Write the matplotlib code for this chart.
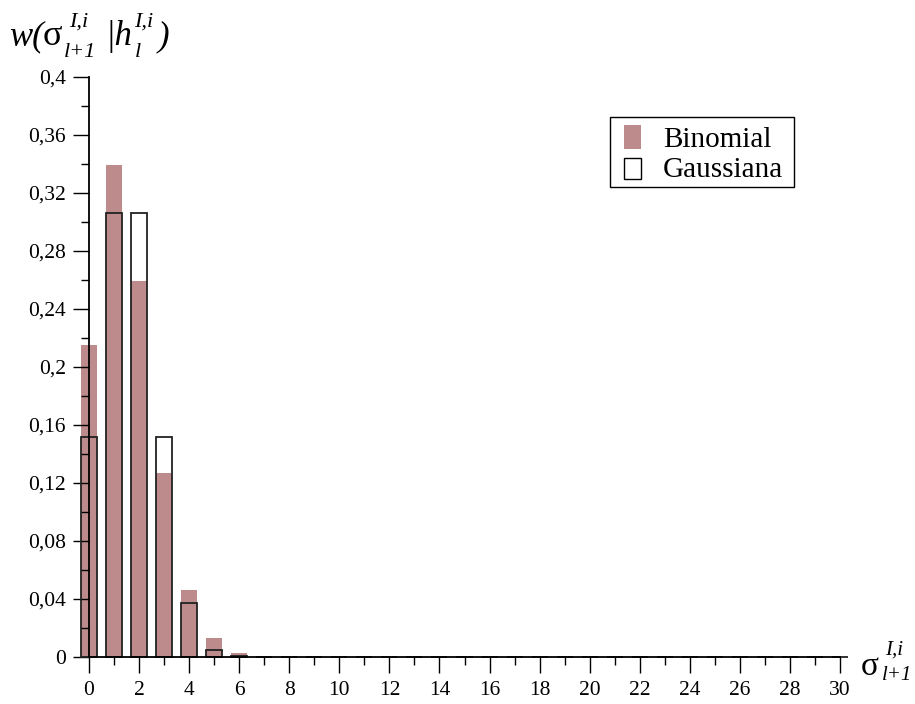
"""Binomial vs Gaussian probability bars for sigma_{l+1} given h_l."""

import matplotlib
matplotlib.use("Agg")
import matplotlib.pyplot as plt
from matplotlib.patches import Rectangle
from matplotlib.ticker import MultipleLocator

plt.rcParams["font.family"] = ["Liberation Serif", "DejaVu Serif"]

W, H = 915, 704

# occupation number sigma = 0..30
sigma = list(range(31))

binomial = [0.215, 0.339, 0.259, 0.127, 0.046, 0.013, 0.003, 0.0006, 0.0001,
            0.0, 0.0, 0.0, 0.0, 0.0, 0.0, 0.0, 0.0, 0.0, 0.0, 0.0, 0.0,
            0.0, 0.0, 0.0, 0.0, 0.0, 0.0, 0.0, 0.0, 0.0, 0.0]
gaussiana = [0.152, 0.306, 0.306, 0.152, 0.037, 0.005, 0.0004, 0.0, 0.0,
             0.0, 0.0, 0.0, 0.0, 0.0, 0.0, 0.0, 0.0, 0.0, 0.0, 0.0, 0.0,
             0.0, 0.0, 0.0, 0.0, 0.0, 0.0, 0.0, 0.0, 0.0, 0.0]

y_ticks = [0, 0.04, 0.08, 0.12, 0.16, 0.2, 0.24, 0.28, 0.32, 0.36, 0.4]
y_labels = ["0", "0,04", "0,08", "0,12", "0,16", "0,2", "0,24", "0,28",
            "0,32", "0,36", "0,4"]
x_ticks = list(range(0, 31, 2))

BIN_COLOR = "#bd8b8b"
GAUSS_EDGE = "#222222"

fig = plt.figure(figsize=(W / 100, H / 100), dpi=100)
ax = fig.add_axes([89 / W, 1 - 657 / H, 751 / W, 580 / H])

width = 0.64
ax.bar(sigma, binomial, width=width, color=BIN_COLOR, linewidth=0,
       clip_on=False, zorder=1)
ax.bar(sigma, gaussiana, width=width, facecolor="none", edgecolor=GAUSS_EDGE,
       linewidth=1.3, clip_on=False, zorder=2)

ax.set_xlim(0, 30)
ax.set_ylim(0, 0.4)

for side in ("top", "right"):
    ax.spines[side].set_visible(False)
for side in ("left", "bottom"):
    ax.spines[side].set_linewidth(1.3)
    ax.spines[side].set_zorder(3)

ax.set_yticks(y_ticks)
ax.set_yticklabels(y_labels)
ax.yaxis.set_minor_locator(MultipleLocator(0.02))
ax.set_xticks(x_ticks)
ax.set_xticklabels([str(v) for v in x_ticks])
ax.xaxis.set_minor_locator(MultipleLocator(1))

ax.tick_params(which="major", length=11.5, width=1.0, labelsize=15.5)
ax.tick_params(axis="y", which="major", pad=5)
ax.tick_params(axis="x", which="major", pad=6)
ax.tick_params(which="minor", length=5.5, width=1.0)


def px(x, y):
    """Pixel position (from top-left) to figure fraction."""
    return x / W, 1 - y / H


def put(x, y, s, size, style="italic"):
    fig.text(*px(x, y), s, fontsize=size, style=style,
             ha="left", va="baseline")


# legend box
lx, ly = px(610, 187)
fig.add_artist(Rectangle((lx, ly), 184 / W, 70 / H, transform=fig.transFigure,
                         facecolor="white", edgecolor="black", linewidth=1.0))
bx, by = px(624, 149)
fig.add_artist(Rectangle((bx, by), 17 / W, 24 / H, transform=fig.transFigure,
                         facecolor=BIN_COLOR, edgecolor="none"))
gx, gy = px(624, 179)
fig.add_artist(Rectangle((gx, gy), 17 / W, 21 / H, transform=fig.transFigure,
                         facecolor="white", edgecolor="black", linewidth=1.0))
put(663, 147, "Binomial", 21, "normal")
put(663, 177, "Gaussiana", 21, "normal")

# y-axis label: w(sigma_{l+1}^{I,i} | h_l^{I,i})
put(9, 45, "w(", 25)
put(43, 45, "σ", 26, "normal")
put(69, 27, "I,i", 16)
put(64, 57, "l+1", 16)
put(105, 45, "|h", 25)
put(134, 27, "I,i", 16)
put(135, 57, "l", 16)
put(158, 45, ")", 25)

# x-axis label: sigma_{l+1}^{I,i}
put(861, 675, "σ", 24, "normal")
put(885, 655, "I,i", 15)
put(882, 680, "l+1", 15)

fig.savefig("out.png", dpi=100)
